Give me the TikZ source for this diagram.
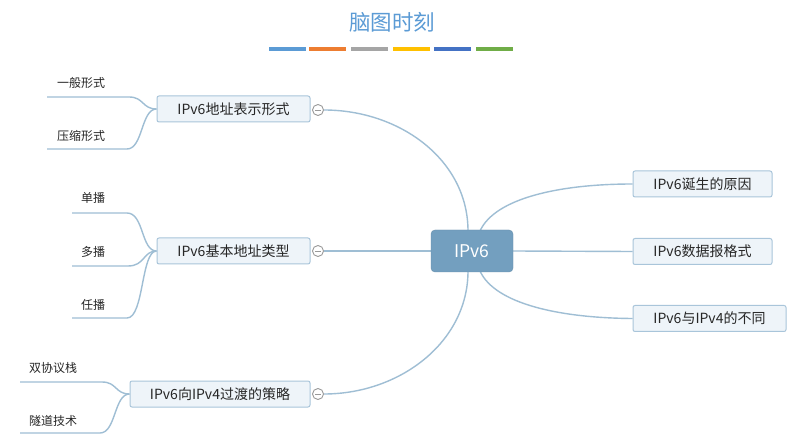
\documentclass[tikz,border=0pt]{standalone}
\usepackage{fontspec}
\setmainfont{Noto Sans CJK SC}
\usetikzlibrary{backgrounds}
\definecolor{linec}{HTML}{9FBED4}
\definecolor{boxfill}{HTML}{EEF4F9}
\definecolor{boxdraw}{HTML}{A9C5DA}
\definecolor{rootfill}{HTML}{739FBF}
\definecolor{txt}{HTML}{262626}
\definecolor{titlec}{HTML}{5B9BD5}
\definecolor{b1}{HTML}{5B9BD5}
\definecolor{b2}{HTML}{ED7D31}
\definecolor{b3}{HTML}{A5A5A5}
\definecolor{b4}{HTML}{FFC000}
\definecolor{b5}{HTML}{4472C4}
\definecolor{b6}{HTML}{70AD47}
\tikzset{
  rootbox/.style={fill=rootfill, draw=rootfill!90!black, rounded corners=4pt, minimum width=82pt, minimum height=42pt, text=white, font=\fontsize{17.5}{17.5}\selectfont, inner sep=0pt},
  subbox/.style={fill=boxfill, draw=boxdraw, line width=1pt, rounded corners=2pt, minimum height=26pt, text=txt, font=\fontsize{14}{14}\selectfont, inner sep=0pt},
  leaftext/.style={anchor=west, text=txt, font=\fontsize{12}{12}\selectfont, inner sep=0pt},
  conn/.style={draw=linec, line width=1.4pt},
  fold/.style={circle, draw=black!40, fill=white, line width=0.9pt, minimum size=11pt, inner sep=0pt},
  bar/.style={fill=#1, draw=none}
}
\begin{document}
\begin{tikzpicture}[x=1pt,y=-1pt]
\begin{scope}[on background layer]
\path[use as bounding box, fill=white] (0,0) rectangle (800,443);
\end{scope}
% title
\node[text=titlec, font=\fontsize{21.5}{21.5}\selectfont] (title) at (392,22) {脑图时刻};
\fill[bar=b1] (269,47) rectangle (306,51);
\fill[bar=b2] (309,47) rectangle (346,51);
\fill[bar=b3] (351,47) rectangle (388,51);
\fill[bar=b4] (393,47) rectangle (430,51);
\fill[bar=b5] (434,47) rectangle (471,51);
\fill[bar=b6] (476,47) rectangle (513,51);

% root and main nodes
\node[rootbox] (root) at (472,251) {IPv6};
\node[subbox, minimum width=139pt] (r1) at (702.5,184) {IPv6诞生的原因};
\node[subbox, minimum width=139pt] (r2) at (702.5,251.5) {IPv6数据报格式};
\node[subbox, minimum width=153pt] (r3) at (709.5,318.5) {IPv6与IPv4的不同};
\node[subbox, minimum width=153pt] (l1) at (233.5,109) {IPv6地址表示形式};
\node[subbox, minimum width=153pt] (l2) at (233.5,251) {IPv6基本地址类型};
\node[subbox, minimum width=180pt] (l3) at (220,394) {IPv6向IPv4过渡的策略};

% fold circles
\foreach \n/\y in {c1/110,c2/251,c3/394}{
  \node[fold] (\n) at (318,\y) {};
  \draw[black!40, line width=0.9pt] ([xshift=-3pt]\n.center) -- ([xshift=3pt]\n.center);
}

\coordinate (rtl) at (468,231);
\coordinate (rbl) at (468,271);
\coordinate (rtr) at (480,231);
\coordinate (rbr) at (480,271);

% leaf texts
\node[leaftext] (n11) at (57,83) {一般形式};
\node[leaftext] (n12) at (57,136) {压缩形式};
\node[leaftext] (n21) at (81,198) {单播};
\node[leaftext] (n22) at (81,252) {多播};
\node[leaftext] (n23) at (81,305) {任播};
\node[leaftext] (n31) at (29,368) {双协议栈};
\node[leaftext] (n32) at (29,421) {隧道技术};
\coordinate (a11) at (47,97);  \coordinate (b11) at (129,97);
\coordinate (a12) at (47,149); \coordinate (b12) at (127,149);
\coordinate (a21) at (72,213); \coordinate (b21) at (127,213);
\coordinate (a22) at (72,266); \coordinate (b22) at (128,266);
\coordinate (a23) at (72,318); \coordinate (b23) at (127,318);
\coordinate (a31) at (20,382); \coordinate (b31) at (102,382);
\coordinate (a32) at (20,433); \coordinate (b32) at (100,433);

\begin{scope}[on background layer]
% connectors from the centre
\path[conn] (c1.east) .. controls (400,110) and (468,160) .. (rtl);
\path[conn] (c2.east) -- (root.west);
\path[conn] (c3.east) .. controls (400,394) and (468,342) .. (rbl);
\path[conn] (rtr) .. controls (495,198) and (560,184) .. (r1.west);
\path[conn] (root.east) -- (r2.west);
\path[conn] (rbr) .. controls (495,304) and (560,318) .. (r3.west);
% leaves
\path[conn] (a11) -- (b11) .. controls (144,97) and (142,109) .. (l1.west);
\path[conn] (a12) -- (b12) .. controls (143,149) and (141,109) .. (l1.west);
\path[conn] (a21) -- (b21) .. controls (144,213) and (141,251) .. (l2.west);
\path[conn] (a22) -- (b22) .. controls (145,266) and (143,251) .. (l2.west);
\path[conn] (a23) -- (b23) .. controls (144,318) and (141,251) .. (l2.west);
\path[conn] (a31) -- (b31) .. controls (117,382) and (115,394) .. (l3.west);
\path[conn] (a32) -- (b32) .. controls (116,433) and (114,394) .. (l3.west);
\end{scope}
\end{tikzpicture}
\end{document}
